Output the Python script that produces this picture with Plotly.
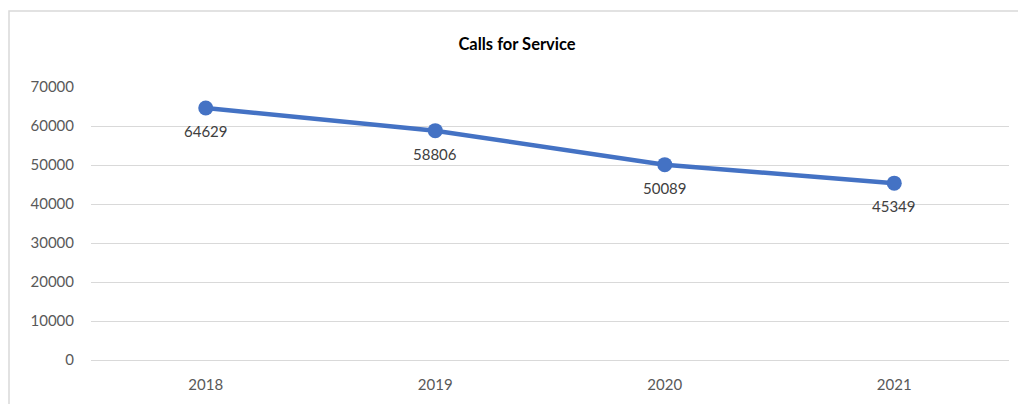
import plotly.graph_objects as go

years = ["2018", "2019", "2020", "2021"]
calls = [64629, 58806, 50089, 45349]
y_ticks = [0, 10000, 20000, 30000, 40000, 50000, 60000, 70000]
y_tick_labels = ["0", "10000", "20000", "30000", "40000", "50000", "60000", "70000"]

OFF = 8  # page body margin
W, H = 1026 - OFF, 404 - OFF
L, R, T, B = 91 - OFF, 17, 87 - OFF, 44
pw, ph = W - L - R, H - T - B

def px_x(x):
    return (x - OFF - L) / pw

def px_y(y):
    return (H - B - (y - OFF)) / ph

fig = go.Figure()
fig.add_trace(go.Scatter(
    x=years, y=calls, mode="lines+markers",
    line=dict(color="#4472C4", width=4.5),
    marker=dict(color="#4472C4", size=15),
    cliponaxis=False, hoverinfo="skip",
))

annotations = [
    dict(x=i, y=v, text=str(v), showarrow=False, xref="x", yref="y",
         yshift=-23, font=dict(size=15, color="#404040"))
    for i, v in enumerate(calls)
]

fig.update_layout(
    width=W, height=H,
    margin=dict(l=L, r=R, t=T, b=B),
    paper_bgcolor="white", plot_bgcolor="white",
    font=dict(family="Lato, Carlito, sans-serif", size=15, color="#595959"),
    showlegend=False,
    title=dict(text="<b>Calls for Service</b>", x=0.5, xanchor="center",
               y=1 - (44 - OFF) / H, yanchor="middle",
               font=dict(size=16.5, color="#000000")),
    xaxis=dict(type="category", showgrid=False, showline=False, zeroline=False,
               range=[-0.5, 3.5],
               ticks="", ticklabelstandoff=14, fixedrange=True),
    yaxis=dict(range=[0, 70000], tickvals=y_ticks, ticktext=y_tick_labels,
               showgrid=True, gridcolor="#d9d9d9", gridwidth=1,
               zeroline=True, zerolinecolor="#d9d9d9", zerolinewidth=1,
               showline=False, ticks="", ticklabelstandoff=16,
               fixedrange=True),
    annotations=annotations,
    shapes=[dict(type="rect", xref="paper", yref="paper",
                 x0=px_x(9), x1=px_x(1020), y0=px_y(430), y1=px_y(11),
                 line=dict(color="#d9d9d9", width=1.5), layer="below")],
)

fig.write_html("out.html")
